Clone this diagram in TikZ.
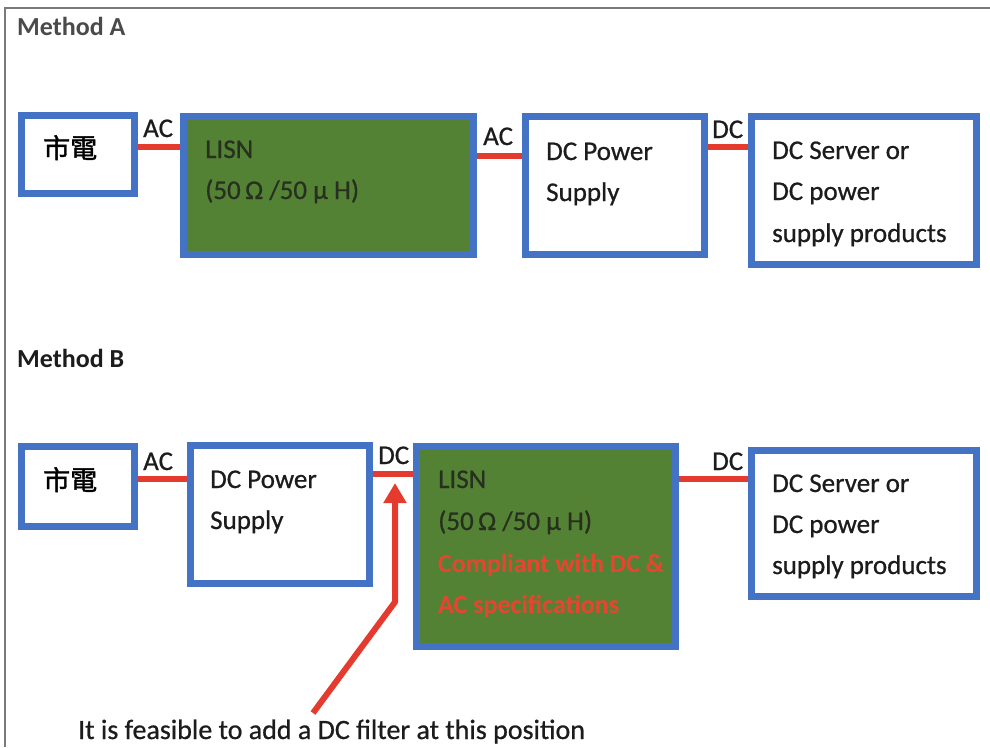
\documentclass[tikz,border=0pt]{standalone}
\usepackage{fontspec}
\setmainfont{Carlito}
\newfontfamily\inkfont[FakeBold=0.7]{Carlito}
\newfontfamily\cjk[FakeBold=1.5]{Noto Sans CJK TC}
\usetikzlibrary{arrows.meta,backgrounds}

\definecolor{boxblue}{HTML}{4472C4}
\definecolor{lisngreen}{HTML}{548235}
\definecolor{linkred}{HTML}{E53B2F}
\definecolor{notered}{HTML}{EA4430}
\definecolor{inktext}{HTML}{1C1C1C}
\definecolor{lisntext}{HTML}{27301F}
\definecolor{headgray}{HTML}{4A4A4A}
\definecolor{framegray}{HTML}{7A7A7A}

\tikzset{
  unit/.style={draw=boxblue, line width=7pt, fill=white, inner sep=0pt},
  lisnbox/.style={unit, fill=lisngreen},
  link/.style={draw=linkred, line width=6pt},
  pointer/.style={draw=linkred, line width=6pt, line join=round,
    -{Triangle[width=22pt,length=20pt]}},
  txt/.style={anchor=base west, inner sep=0pt, text=inktext,
    font=\fontsize{27}{31}\inkfont},
  lisntxt/.style={txt, text=lisntext},
  redtxt/.style={txt, text=notered, font=\fontsize{26}{31}\selectfont\bfseries},
  head/.style={txt, font=\fontsize{26}{31}\selectfont\bfseries},
  hanzi/.style={anchor=base west, inner sep=0pt, text=black,
    font=\fontsize{27}{31}\selectfont\cjk},
}

\begin{document}
\begin{tikzpicture}[x=1pt,y=-1pt]
\useasboundingbox (0,0) rectangle (990,747);

% page frame (left and top edges)
\draw[framegray, line width=2pt] (5,747) -- (5,8) -- (990,8);

% ---------------- Method A ----------------
\node[head, text=headgray] (hA) at (17,35) {Method A};

\node[unit, minimum width=113pt, minimum height=78pt]  (a1)   at (78,154.5)  {};
\node[lisnbox, minimum width=290pt, minimum height=138pt] (lisnA) at (328.5,185.5) {};
\node[unit, minimum width=179pt, minimum height=138pt] (dcA)  at (615,185.5) {};
\node[unit, minimum width=225pt, minimum height=148pt] (srvA) at (864,190.5) {};

\begin{scope}[on background layer]
  \draw[link] (a1.east |- 0,147) -- (lisnA.west |- 0,147);
  \draw[link] (lisnA.east |- 0,156) -- (dcA.west |- 0,156);
  \draw[link] (dcA.east |- 0,147) -- (srvA.west |- 0,147);
\end{scope}

\node[hanzi] (a1t) at (43,158) {市電};
\node[txt] (acA1) at (143,137) {AC};
\node[lisntxt] (lisnA1) at (205,158) {LISN};
\node[lisntxt] (lisnA2) at (205,199) {(50\,Ω /50 μ H)};
\node[txt] (acA2) at (483,145) {AC};
\node[txt] (dcA1) at (546,160) {DC Power};
\node[txt] (dcA2) at (546,201) {Supply};
\node[txt] (dcA3) at (712,138) {DC};
\node[txt] (srvA1) at (772,159) {DC Server or};
\node[txt] (srvA2) at (772,200) {DC power};
\node[txt] (srvA3) at (772,242) {supply products};

% ---------------- Method B ----------------
\node[head] (hB) at (17,367) {Method B};

\node[unit, minimum width=113pt, minimum height=80pt]  (b1)   at (78,486.5)  {};
\node[unit, minimum width=179pt, minimum height=138pt] (dcB)  at (280,514.5) {};
\node[lisnbox, minimum width=259pt, minimum height=200pt] (lisnB) at (546,546.5) {};
\node[unit, minimum width=225pt, minimum height=146pt] (srvB) at (864,523.5) {};

\begin{scope}[on background layer]
  \draw[link] (b1.east |- 0,479) -- (dcB.west |- 0,479);
  \draw[link] (dcB.east |- 0,474) -- (lisnB.west |- 0,474);
  \draw[link] (lisnB.east |- 0,479) -- (srvB.west |- 0,479);
\end{scope}

\node[hanzi] (b1t) at (43,490) {市電};
\node[txt] (acB1) at (143,470) {AC};
\node[txt] (dcB1) at (210,488) {DC Power};
\node[txt] (dcB2) at (210,529) {Supply};
\node[txt] (dcB3) at (378,464) {DC};
\node[lisntxt] (lisnB1) at (438,488) {LISN};
\node[lisntxt] (lisnB2) at (438,530) {(50\,Ω /50 μ H)};
\node[redtxt] (lisnB3) at (438,572) {Compliant with DC \&};
\node[redtxt] (lisnB4) at (438,613) {AC specifications};
\node[txt] (dcB4) at (712,470) {DC};
\node[txt] (srvB1) at (772,492) {DC Server or};
\node[txt] (srvB2) at (772,533) {DC power};
\node[txt] (srvB3) at (772,574) {supply products};

% annotation arrow pointing at the DC link
\coordinate (tail) at (313,713);
\coordinate (bend) at (395,602);
\coordinate (tip)  at (395,483);
\draw[pointer] (tail) -- (bend) -- (tip);

\node[txt, font=\fontsize{28}{31}\inkfont] (note) at (78,739)
  {It is feasible to add a DC filter at this position};
\end{tikzpicture}
\end{document}
